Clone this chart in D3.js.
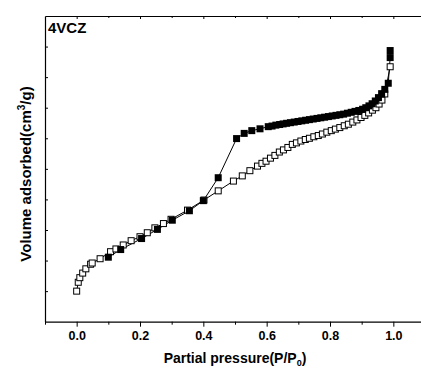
<!DOCTYPE html>
<html>
<head>
<meta charset="utf-8">
<script src="https://cdn.jsdelivr.net/npm/d3@7"></script>
<style>
  body { margin: 0; background: #fff; }
  svg { display: block; font-family: "Liberation Sans", Arial, sans-serif; }
</style>
</head>
<body>
<svg id="chart" width="421" height="372"></svg>
<script>
// adsorption branch (open squares), P/P0 vs volume (arbitrary units, axis unlabeled)
const adsP = [0.0, 0.005, 0.01, 0.019, 0.029, 0.044, 0.049, 0.074, 0.107, 0.124, 0.147, 0.172, 0.2, 0.223, 0.247, 0.274, 0.298, 0.35, 0.402, 0.447, 0.495, 0.523, 0.547,
  0.571, 0.585, 0.598, 0.612, 0.626, 0.64, 0.653, 0.667, 0.681, 0.694, 0.708, 0.722, 0.735, 0.749, 0.763, 0.776, 0.79, 0.804, 0.817, 0.831, 0.845, 0.858, 0.872, 0.885,
  0.898, 0.91, 0.922, 0.934, 0.945, 0.955, 0.964, 0.973, 0.99]
const adsV = [1.0, 1.29, 1.44, 1.59, 1.73, 1.88, 1.92, 2.06, 2.29, 2.38, 2.51, 2.65, 2.78, 2.91, 3.07, 3.21, 3.35, 3.65, 3.98, 4.28, 4.6, 4.77, 4.94,
  5.09, 5.18, 5.25, 5.35, 5.44, 5.55, 5.62, 5.7, 5.8, 5.85, 5.91, 5.96, 6.0, 6.05, 6.09, 6.14, 6.2, 6.25, 6.3, 6.35, 6.41, 6.46, 6.53, 6.6,
  6.68, 6.75, 6.83, 6.92, 7.0, 7.12, 7.25, 7.45, 8.34]

// desorption branch (filled squares)
const desP = [0.99, 0.99, 0.984, 0.973, 0.963, 0.953, 0.943, 0.933, 0.923, 0.913, 0.903, 0.891, 0.879, 0.867, 0.855, 0.843, 0.831, 0.819, 0.807, 0.795,
  0.783, 0.771, 0.759, 0.747, 0.735, 0.723, 0.711, 0.699, 0.687, 0.675, 0.663, 0.652, 0.641, 0.629, 0.617, 0.605, 0.579, 0.553, 0.529, 0.505,
  0.447, 0.4, 0.356, 0.302, 0.255, 0.205, 0.139, 0.1]
const desV = [8.87, 8.64, 7.8, 7.6, 7.46, 7.33, 7.22, 7.13, 7.06, 7.0, 6.95, 6.91, 6.88, 6.85, 6.82, 6.79, 6.77, 6.75, 6.73, 6.71,
  6.69, 6.67, 6.65, 6.63, 6.61, 6.59, 6.57, 6.55, 6.53, 6.51, 6.49, 6.47, 6.45, 6.43, 6.4, 6.38, 6.31, 6.25, 6.16, 5.99,
  4.71, 3.96, 3.63, 3.32, 3.02, 2.72, 2.36, 2.11]

const xMajor = [0.0, 0.2, 0.4, 0.6, 0.8, 1.0]
const xMinor = [-0.1, 0.1, 0.3, 0.5, 0.7, 0.9]
const yTicks = [1, 2, 3, 4, 5, 6, 7, 8, 9]
const sampleName = "4VCZ"

const svg = d3.select("#chart")
const margin = {top: 16, left: 45, bottom: 321.7}
const plotRight = 425

const xScale = d3.scaleLinear().domain([-0.1, 1.1]).range([margin.left, plotRight])
const yScale = d3.scaleLinear().domain([0, 10]).range([margin.bottom, margin.top])

// bottom axis
const xAxis = g => g
    .attr("transform", `translate(0,${margin.bottom})`)
    .call(d3.axisBottom(xScale).tickValues(xMajor).tickSize(5).tickSizeOuter(0).tickPadding(4).tickFormat(d3.format(".1f")))
    .call(g => g.selectAll("text").attr("font-size", 12.5).attr("font-weight", "bold").attr("fill", "#000"))
    .call(g => g.select(".domain").attr("stroke-width", 1.2))
svg.append("g").call(xAxis)
svg.append("g")
    .attr("transform", `translate(0,${margin.bottom})`)
    .call(d3.axisBottom(xScale).tickValues(xMinor).tickSize(3).tickFormat(""))
    .call(g => g.select(".domain").remove())

// top axis (mirror, no labels)
svg.append("g")
    .attr("transform", `translate(0,${margin.top})`)
    .call(d3.axisBottom(xScale).tickValues(xMajor).tickSize(3).tickSizeOuter(0).tickFormat(""))
    .call(g => g.select(".domain").attr("stroke-width", 1.2))
svg.append("g")
    .attr("transform", `translate(0,${margin.top})`)
    .call(d3.axisBottom(xScale).tickValues(xMinor.slice(1)).tickSize(2).tickFormat(""))
    .call(g => g.select(".domain").remove())

// left axis, ticks inward, no labels
svg.append("g")
    .attr("transform", `translate(${margin.left},0)`)
    .call(d3.axisRight(yScale).tickValues(yTicks).tickSize(3).tickSizeOuter(0).tickFormat(""))
    .call(g => g.select(".domain").attr("stroke-width", 1.2))

const line = d3.line()
    .x(d => xScale(d[0]))
    .y(d => yScale(d[1]))

const ads = adsP.map((p, i) => [p, adsV[i]])
const des = desP.map((p, i) => [p, desV[i]])

svg.append("path")
    .datum(ads)
    .attr("fill", "none")
    .attr("stroke", "#000")
    .attr("stroke-width", 1)
    .attr("d", line)
svg.append("path")
    .datum(des)
    .attr("fill", "none")
    .attr("stroke", "#000")
    .attr("stroke-width", 1)
    .attr("d", line)

const s = 6
svg.append("g").selectAll("rect")
    .data(ads)
    .join("rect")
    .attr("x", d => xScale(d[0]) - s / 2)
    .attr("y", d => yScale(d[1]) - s / 2)
    .attr("width", s)
    .attr("height", s)
    .attr("fill", "#fff")
    .attr("stroke", "#000")
    .attr("stroke-width", 1)

svg.append("g").selectAll("rect")
    .data(des)
    .join("rect")
    .attr("x", d => xScale(d[0]) - (s + 1) / 2)
    .attr("y", d => yScale(d[1]) - (s + 1) / 2)
    .attr("width", s + 1)
    .attr("height", s + 1)
    .attr("fill", "#000")

// labels
svg.append("text")
    .attr("x", 48)
    .attr("y", 33)
    .attr("font-size", 15)
    .attr("font-weight", "bold")
    .text(sampleName)

const xl = svg.append("text")
    .attr("x", 235)
    .attr("y", 363)
    .attr("text-anchor", "middle")
    .attr("font-size", 14)
    .attr("font-weight", "bold")
xl.append("tspan").text("Partial pressure(P/P")
xl.append("tspan").attr("font-size", 9).attr("dy", 3).text("0")
xl.append("tspan").attr("dy", -3).text(")")

const yl = svg.append("text")
    .attr("transform", "translate(31,174) rotate(-90)")
    .attr("text-anchor", "middle")
    .attr("font-size", 15)
    .attr("font-weight", "bold")
yl.append("tspan").text("Volume adsorbed(cm")
yl.append("tspan").attr("font-size", 10).attr("dy", -6).text("3")
yl.append("tspan").attr("dy", 6).text("/g)")
</script>
</body>
</html>
